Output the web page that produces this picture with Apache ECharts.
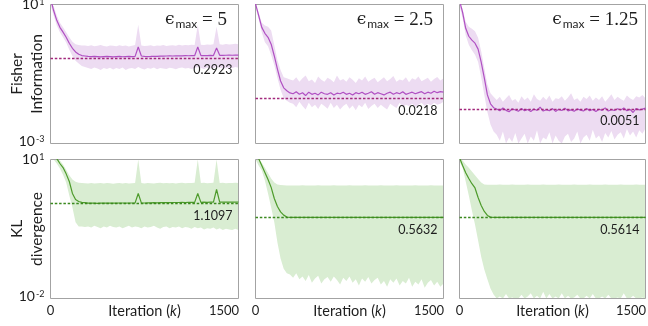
<!DOCTYPE html>
<html><head><meta charset="utf-8">
<script src="https://cdn.jsdelivr.net/npm/echarts@6/dist/echarts.min.js"></script>
<style>html,body{margin:0;padding:0;background:#fff}#c{width:648px;height:326px}</style>
</head><body><div id="c"></div>
<script>
const iterations = [0,25,50,75,100,125,150,175,200,225,250,275,300,325,350,375,400,425,450,475,500,525,550,575,600,625,650,675,700,725,750,775,800,825,850,875,900,925,950,975,1000,1025,1050,1075,1100,1125,1150,1175,1200,1225,1250,1275,1300,1325,1350,1375,1400,1425,1450,1475,1500];

// Fisher information, eps_max = 5
const fisherMean5 = [15,6.7,3.5,2.2,1.6,1.14,0.77,0.55,0.43,0.37,0.34,0.33,
0.32,0.315,0.32,0.318,0.31,0.315,0.32,0.318,0.312,0.316,0.32,0.314,0.318,0.32,0.316,0.322,
0.6,
0.33,0.322,0.318,0.32,0.324,0.32,0.326,0.328,0.33,0.332,0.33,0.334,0.335,0.333,0.336,0.335,0.338,0.336,
0.6,
0.34,0.338,0.34,0.342,0.34,
0.56,
0.345,0.344,0.346,0.348,0.346,0.348,0.35];
const fisherUp5 = [20,9,4.8,3.0,2.2,1.6,1.15,0.85,0.72,0.68,0.66,
0.66,0.64,0.67,0.63,0.65,0.68,0.64,0.62,0.66,0.65,0.63,0.67,0.64,0.66,0.62,0.65,0.68,
2.6,
0.66,0.64,0.65,0.67,0.63,0.66,0.65,0.68,0.64,0.66,0.67,0.65,0.69,0.66,0.68,0.67,0.7,0.68,
2.6,
0.7,0.68,0.71,0.69,0.72,
2.3,
0.72,0.7,0.73,0.71,0.72,0.74,0.72];
const fisherLo5 = [10,4.8,2.5,1.6,1.15,0.8,0.5,0.33,0.24,0.2,0.17,0.16,
0.15,0.14,0.155,0.145,0.13,0.15,0.14,0.152,0.135,0.148,0.14,0.155,0.13,0.145,0.15,0.14,
0.16,
0.145,0.135,0.15,0.142,0.155,0.138,0.15,0.145,0.14,0.152,0.146,0.138,0.15,0.155,0.143,0.15,0.14,0.148,
0.16,
0.15,0.14,0.155,0.145,0.15,
0.16,
0.148,0.152,0.145,0.155,0.15,0.158,0.152];

// Fisher information, eps_max = 2.5
const fisherMean25 = [10.5,4.85,2.2,1.48,1.14,0.72,0.33,0.139,0.063,0.04,0.033,0.0286,
0.027,0.031,0.026,0.029,0.024,0.03,0.026,0.028,0.025,0.03,0.027,0.026,0.029,0.025,0.028,0.027,0.03,0.026,0.028,0.025,0.029,0.027,0.03,0.026,0.028,0.031,0.026,0.029,0.027,0.025,0.028,0.03,0.026,0.029,0.027,0.031,0.026,0.028,0.03,0.027,0.029,0.031,0.027,0.03,0.028,0.032,0.029,0.031,0.03];
const fisherUp25 = [13,6.0,3.0,2.5,2.3,1.8,0.67,0.25,0.13,0.08,0.075,0.07,
0.065,0.08,0.06,0.075,0.09,0.062,0.07,0.055,0.085,0.068,0.06,0.078,0.07,0.058,0.09,0.065,0.072,0.06,0.08,0.068,0.055,0.075,0.065,0.085,0.06,0.07,0.078,0.058,0.068,0.08,0.062,0.072,0.088,0.06,0.07,0.065,0.08,0.058,0.075,0.068,0.085,0.062,0.07,0.078,0.06,0.072,0.082,0.065,0.075];
const fisherLo25 = [8.5,3.8,1.6,0.82,0.63,0.35,0.18,0.077,0.035,0.02,0.017,0.015,
0.014,0.011,0.016,0.012,0.0095,0.015,0.011,0.013,0.0098,0.014,0.012,0.01,0.015,0.0105,0.013,0.0095,0.012,0.014,0.01,0.0125,0.009,0.013,0.011,0.015,0.0098,0.012,0.014,0.0105,0.013,0.011,0.0095,0.014,0.012,0.0105,0.015,0.011,0.013,0.012,0.014,0.0115,0.013,0.015,0.012,0.014,0.0125,0.015,0.013,0.014,0.016];

// Fisher information, eps_max = 1.25
const fisherMean125 = [13,5.9,2.06,1.22,0.94,0.77,0.52,0.22,0.077,0.025,0.0139,0.0107,
0.0098,0.0088,0.0105,0.009,0.0082,0.01,0.0092,0.0085,0.0102,0.0088,0.0095,0.0083,0.0098,0.009,0.0112,0.0086,0.0094,0.0088,0.0101,0.0084,0.0096,0.0089,0.0104,0.0087,0.0093,0.0085,0.0099,0.0091,0.0086,0.0102,0.0088,0.0095,0.0083,0.0097,0.009,0.0106,0.0086,0.0094,0.0089,0.01,0.0092,0.0105,0.0088,0.0096,0.0078,0.0102,0.0093,0.0098,0.0104];
const fisherUp125 = [16,7.5,3.2,2.3,2.0,1.7,1.1,0.45,0.15,0.05,0.028,0.022,
0.018,0.022,0.016,0.02,0.025,0.017,0.019,0.015,0.023,0.018,0.021,0.016,0.026,0.019,0.017,0.022,0.018,0.024,0.016,0.02,0.019,0.023,0.017,0.021,0.028,0.018,0.02,0.016,0.022,0.019,0.024,0.017,0.021,0.018,0.023,0.016,0.02,0.026,0.018,0.022,0.019,0.017,0.024,0.02,0.018,0.023,0.021,0.025,0.02];
const fisherLo125 = [9,4.0,1.3,0.7,0.48,0.36,0.22,0.08,0.025,0.008,0.0035,0.0022,
0.0018,0.0012,0.0022,0.0009,0.0015,0.0011,0.002,0.0008,0.0014,0.0019,0.001,0.0016,0.0012,0.0024,0.0009,0.0015,0.0013,0.0021,0.001,0.0017,0.0012,0.0008,0.0016,0.0019,0.0011,0.0014,0.0022,0.001,0.0015,0.0018,0.0012,0.0025,0.0014,0.0017,0.0011,0.002,0.0015,0.0023,0.0013,0.0018,0.0021,0.0014,0.0026,0.0017,0.0022,0.0015,0.0024,0.0019,0.0027];

// KL divergence, eps_max = 5
const klMean5 = [20,13,10.5,8.2,6.7,4.9,3.35,1.85,1.37,1.24,1.19,1.17,
1.14,1.15,1.14,1.13,1.14,1.15,1.14,1.14,1.15,1.14,1.15,1.15,1.14,1.15,1.15,1.16,
1.85,
1.16,1.15,1.16,1.16,1.17,1.16,1.17,1.17,1.18,1.17,1.18,1.18,1.18,1.19,1.18,1.19,1.19,1.19,
1.85,
1.19,1.2,1.19,1.2,1.2,
2.25,
1.2,1.2,1.21,1.2,1.21,1.2,1.21];
const klUp5 = [30,18,12,9.5,7.8,6.0,4.6,3.7,3.3,3.15,3.1,3.08,
3.05,3.1,3.02,3.08,3.12,3.04,3.1,3.06,3.0,3.08,3.12,3.05,3.1,3.03,3.08,3.1,
12,
3.1,3.05,3.12,3.08,3.04,3.1,3.14,3.06,3.1,3.08,3.12,3.05,3.1,3.14,3.08,3.12,3.1,3.15,
12,
3.1,3.14,3.08,3.12,3.15,
12,
3.1,3.14,3.08,3.12,3.1,3.15,3.12];
const klLo5 = [14,10,8.2,6.4,4.7,3.2,1.67,0.92,0.44,0.36,0.36,0.35,
0.36,0.34,0.37,0.35,0.33,0.36,0.34,0.37,0.35,0.34,0.36,0.33,0.35,0.37,0.34,0.36,0.35,0.33,0.36,0.34,0.35,0.37,0.34,0.32,0.35,0.36,0.33,0.35,0.34,0.36,0.33,0.35,0.34,0.32,0.35,0.33,0.34,0.31,0.33,0.32,0.34,0.31,0.33,0.3,0.32,0.31,0.3,0.32,0.3];

// KL divergence, eps_max = 2.5
const klMean25 = [12,10.5,7.4,5.25,3.7,2.5,1.44,0.97,0.74,0.63,0.574,0.566,
0.565,0.564,0.565,0.564,0.564,0.565,0.564,
0.564,0.563,0.564,0.564,0.563,0.564,0.564,
0.563,0.563,0.564,0.563,0.563,0.564,0.563,
0.563,0.563,0.564,0.563,0.563,0.563,0.563,
0.564,0.563,0.563,0.563,0.563,0.563,0.564,
0.563,0.563,0.563,0.563,0.563,0.563,0.563,
0.564,0.563,0.563,0.563,0.563,0.563,0.563];
const klUp25 = [14,11.5,8.5,6.6,5.1,3.9,3.2,2.9,2.8,2.77,2.76,2.76,
2.76,2.75,2.76,2.77,2.76,2.75,2.76,
2.76,2.77,2.76,2.75,2.76,2.76,2.77,
2.76,2.75,2.76,2.76,2.77,2.76,2.76,
2.75,2.76,2.77,2.76,2.76,2.75,2.76,
2.77,2.76,2.76,2.75,2.76,2.77,2.76,
2.76,2.75,2.76,2.76,2.77,2.76,2.75,
2.76,2.76,2.77,2.76,2.75,2.76,2.76];
const klLo25 = [11,7.4,5.8,3.5,1.85,0.92,0.44,0.162,0.073,0.044,0.035,
0.033,0.028,0.035,0.026,0.03,0.024,0.032,0.022,0.027,0.031,0.021,0.026,0.029,0.023,0.03,0.025,0.02,0.028,0.024,0.03,0.022,0.026,0.019,0.027,0.023,0.029,0.021,0.025,0.028,0.02,0.024,0.018,0.026,0.022,0.027,0.019,0.024,0.021,0.028,0.018,0.023,0.02,0.026,0.017,0.022,0.025,0.019,0.023,0.018,0.021];

// KL divergence, eps_max = 1.25
const klMean125 = [11,7.4,5.2,3.9,3.0,2.43,1.51,1.02,0.755,0.62,0.57,0.562,
0.562,0.562,0.561,0.562,0.561,0.562,0.561,
0.561,0.562,0.561,0.561,0.562,0.561,0.561,
0.561,0.562,0.561,0.561,0.561,0.562,0.561,
0.561,0.561,0.562,0.561,0.561,0.561,0.561,
0.562,0.561,0.561,0.561,0.562,0.561,0.561,
0.561,0.561,0.562,0.561,0.561,0.561,0.561,
0.562,0.561,0.561,0.561,0.561,0.562,0.561];
const klUp125 = [13,9.5,7.8,6.6,5.5,4.6,3.8,3.2,2.88,2.86,2.86,2.86,
2.86,2.87,2.86,2.85,2.86,2.87,2.86,
2.86,2.85,2.86,2.87,2.86,2.86,2.85,
2.86,2.87,2.86,2.86,2.85,2.86,2.87,
2.86,2.86,2.85,2.86,2.87,2.86,2.86,
2.85,2.86,2.87,2.86,2.86,2.85,2.86,
2.87,2.86,2.86,2.85,2.86,2.87,2.86,
2.86,2.85,2.86,2.87,2.86,2.86,2.85];
const klLo125 = [9,6.7,3.35,1.67,0.79,0.395,0.179,0.08,0.042,0.026,0.0164,0.0122,
0.009,0.011,0.008,0.0125,0.009,0.0105,0.008,0.009,0.012,0.0085,0.011,0.013,0.009,0.0115,0.0085,0.014,0.01,0.0125,0.009,0.011,0.0085,0.013,0.0095,0.0115,0.008,0.0105,0.012,0.0085,0.009,0.0115,0.008,0.0125,0.0095,0.009,0.011,0.0085,0.012,0.009,0.008,0.0105,0.0085,0.013,0.009,0.008,0.0115,0.0085,0.009,0.0105,0.0085];

const baselineValues = [0.2923, 0.0218, 0.0051, 1.1097, 0.5632, 0.5614];
const epsilonLabels = ['5', '2.5', '1.25'];
const xTickLabels = ['0', '1500'];
const fisherRange = [0.001, 10];
const klRange = [0.01, 10];
const fisherTickExponents = ['1', '-3'];
const klTickExponents = ['1', '-2'];
const rowNames = ['Fisher\nInformation', 'KL\ndivergence'];

const panels = [
  {mean: fisherMean5, up: fisherUp5, lo: fisherLo5, row: 0, col: 0},
  {mean: fisherMean25, up: fisherUp25, lo: fisherLo25, row: 0, col: 1},
  {mean: fisherMean125, up: fisherUp125, lo: fisherLo125, row: 0, col: 2},
  {mean: klMean5, up: klUp5, lo: klLo5, row: 1, col: 0},
  {mean: klMean25, up: klUp25, lo: klLo25, row: 1, col: 1},
  {mean: klMean125, up: klUp125, lo: klLo125, row: 1, col: 2}
];

const colLeft = [50.5, 255.5, 459.5];
const colWidth = [188, 188, 186];
const rowTop = [4.5, 159.5];
const rowHeight = 139;
const styles = [
  {line: '#b050c3', band: '#eddcf2', dash: '#a2287c'},
  {line: '#4d9b2b', band: '#d9edd2', dash: '#3b891f'}
];
const FONT = 'Lato';
const TXT = '#1e1e1e';

const grids = [], xAxes = [], yAxes = [], series = [];
panels.forEach((p, k) => {
  const range = p.row === 0 ? fisherRange : klRange;
  const exps = p.row === 0 ? fisherTickExponents : klTickExponents;
  const st = styles[p.row];
  grids.push({left: colLeft[p.col], top: rowTop[p.row], width: colWidth[p.col], height: rowHeight,
    show: true, borderColor: '#a3a3a3', borderWidth: 1, backgroundColor: 'transparent',
    containLabel: false, outerBoundsMode: 'none'});
  xAxes.push({type: 'value', gridIndex: k, min: 0, max: 1500, interval: 1500,
    axisLine: {show: false}, axisTick: {show: false}, splitLine: {show: false},
    axisLabel: {show: p.row === 1, margin: 6, showMinLabel: true, showMaxLabel: true,
      formatter: v => v === 0 ? '{c|' + xTickLabels[0] + '}' : (v === 1500 ? '{r|' + xTickLabels[1] + '}' : ''),
      rich: {c: {fontFamily: FONT, fontSize: 13, color: TXT},
             r: {fontFamily: FONT, fontSize: 13, color: TXT, padding: [0, 29, 0, 0]}}},
    name: p.row === 1 ? 'Iteration ({k|k})' : '', nameLocation: 'middle', nameGap: 5, nameMoveOverlap: false,
    nameTextStyle: {fontFamily: FONT, fontSize: 14.5, color: TXT,
      rich: {k: {fontFamily: FONT, fontSize: 14.5, fontStyle: 'italic', color: TXT}}}
  });
  const lmax = Math.log10(range[1]), lmin = Math.log10(range[0]);
  yAxes.push({type: 'log', logBase: 10, gridIndex: k, min: range[0], max: range[1],
    axisLine: {show: false}, axisTick: {show: false}, splitLine: {show: false},
    axisLabel: {show: p.col === 0, margin: 6, showMinLabel: true, showMaxLabel: true,
      formatter: v => {
        const l = Math.log10(v);
        if (Math.abs(l - lmax) < 1e-6) return '{bt|10}{st|' + exps[0] + '}';
        if (Math.abs(l - lmin) < 1e-6) return '{bb|10}{sb|' + exps[1] + '}';
        return '';
      },
      rich: {
        bt: {fontFamily: FONT, fontSize: 14, lineHeight: 14, padding: [8, 0, 0, 0], verticalAlign: 'bottom', color: TXT},
        st: {fontFamily: FONT, fontSize: 9, lineHeight: 9, padding: [8, 0, 5, 1], verticalAlign: 'bottom', color: TXT},
        bb: {fontFamily: FONT, fontSize: 14, lineHeight: 14, padding: [0, 0, 2, 0], verticalAlign: 'bottom', color: TXT},
        sb: {fontFamily: FONT, fontSize: 9, lineHeight: 9, padding: [0, 0, 7, 1], verticalAlign: 'bottom', color: TXT}
      }},
    name: p.col === 0 ? rowNames[p.row] : '', nameLocation: 'middle', nameRotate: 90, nameGap: 4, nameMoveOverlap: false,
    nameTextStyle: {fontFamily: FONT, fontSize: 15.5, lineHeight: 20, color: TXT, align: 'center'}
  });
  const clampV = v => Math.min(range[1], Math.max(range[0], v));
  series.push({type: 'custom', xAxisIndex: k, yAxisIndex: k, z: -1, silent: true, clip: true,
    data: [[0, 1]],
    renderItem: (params, api) => {
      const pts = [];
      for (let i = 0; i < iterations.length; i++) pts.push(api.coord([iterations[i], clampV(p.up[i])]));
      for (let i = iterations.length - 1; i >= 0; i--) pts.push(api.coord([iterations[i], clampV(p.lo[i])]));
      return {type: 'polygon', shape: {points: pts}, style: {fill: st.band}};
    }
  });
  series.push({type: 'line', xAxisIndex: k, yAxisIndex: k, silent: true, z: 3,
    data: iterations.map((x, i) => [x, p.mean[i]]),
    showSymbol: false, symbol: 'none', lineStyle: {width: 1.2, color: st.line}, itemStyle: {color: st.line},
    markLine: {silent: true, symbol: ['none', 'none'], animation: false,
      lineStyle: {type: [2.5, 1.8], width: 1.3, color: st.dash},
      label: {show: true, position: 'insideEndBottom', distance: [6, 6],
        formatter: () => baselineValues[k].toFixed(4), fontFamily: FONT, fontSize: 12.5, color: TXT},
      emphasis: {disabled: true},
      data: [{yAxis: baselineValues[k]}]}
  });
});

const titleRights = [416, 210, 5];
const titles = epsilonLabels.map((e, c) => ({
  text: '{e|\u03F5}{s|max}{q| = ' + e + '}',
  right: titleRights[c], top: 5,
  textStyle: {fontWeight: 'normal', rich: {
    e: {fontFamily: 'DejaVu Serif', fontSize: 17, fontWeight: 'normal', color: TXT},
    s: {fontFamily: FONT, fontSize: 12, fontWeight: 'normal', color: TXT, padding: [8, 0, 0, 1]},
    q: {fontFamily: 'Liberation Serif', fontSize: 19, fontWeight: 'normal', color: TXT}
  }}
}));

const chart = echarts.init(document.getElementById('c'), null, {renderer: 'canvas'});
chart.setOption({animation: false, backgroundColor: '#fff', title: titles,
  grid: grids, xAxis: xAxes, yAxis: yAxes, series: series});
</script></body></html>
